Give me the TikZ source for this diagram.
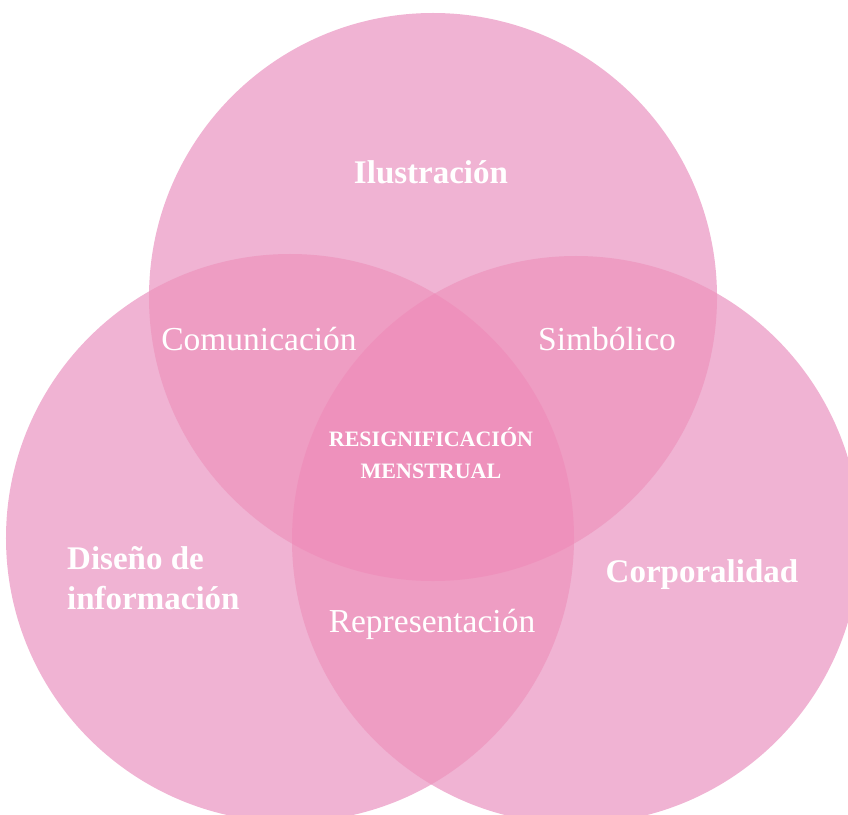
\documentclass[tikz,border=0pt]{standalone}
\usepackage{fontspec}
\setmainfont{Liberation Serif}
\definecolor{pkone}{HTML}{F0B3D3}
\definecolor{pktwo}{HTML}{EE9DC3}
\definecolor{pkthree}{HTML}{EE91BC}
\tikzset{
  biglabel/.style={text=white,inner sep=0pt,font=\fontsize{33bp}{40bp}\selectfont\bfseries},
  midlabel/.style={text=white,inner sep=0pt,font=\fontsize{33.5bp}{40bp}\selectfont},
  corelabel/.style={text=white,inner sep=0pt,font=\fontsize{22bp}{30bp}\selectfont\bfseries}
}
\begin{document}
\begin{tikzpicture}[x=1bp,y=-1bp]
\useasboundingbox (0,0) rectangle (848,815);
\clip (0,0) rectangle (848,815);
\coordinate (ct) at (433,297);
\coordinate (cl) at (290,538);
\coordinate (cr) at (576,540);
\def\rr{284bp}
% single circles
\fill[pkone] (ct) circle[radius=\rr];
\fill[pkone] (cl) circle[radius=\rr];
\fill[pkone] (cr) circle[radius=\rr];
% pairwise overlaps
\begin{scope}\clip (ct) circle[radius=\rr]; \fill[pktwo] (cl) circle[radius=\rr];\end{scope}
\begin{scope}\clip (ct) circle[radius=\rr]; \fill[pktwo] (cr) circle[radius=\rr];\end{scope}
\begin{scope}\clip (cl) circle[radius=\rr]; \fill[pktwo] (cr) circle[radius=\rr];\end{scope}
% triple overlap
\begin{scope}\clip (ct) circle[radius=\rr]; \clip (cl) circle[radius=\rr]; \fill[pkthree] (cr) circle[radius=\rr];\end{scope}
% labels
\node[biglabel,anchor=base] (ilu) at (431,183) {Ilustración};
\node[midlabel,anchor=base] (com) at (259,350) {Comunicación};
\node[midlabel,anchor=base] (sim) at (607,350) {Simbólico};
\node[corelabel,anchor=base] (res1) at (431,446) {RESIGNIFICACIÓN};
\node[corelabel,anchor=base] (res2) at (431,478) {MENSTRUAL};
\node[biglabel,anchor=base west] (dis1) at (67,569) {Diseño de};
\node[biglabel,anchor=base west] (dis2) at (67,609) {información};
\node[biglabel,anchor=base] (cor) at (702,582) {Corporalidad};
\node[midlabel,anchor=base] (rep) at (432,632) {Representación};
\end{tikzpicture}
\end{document}
